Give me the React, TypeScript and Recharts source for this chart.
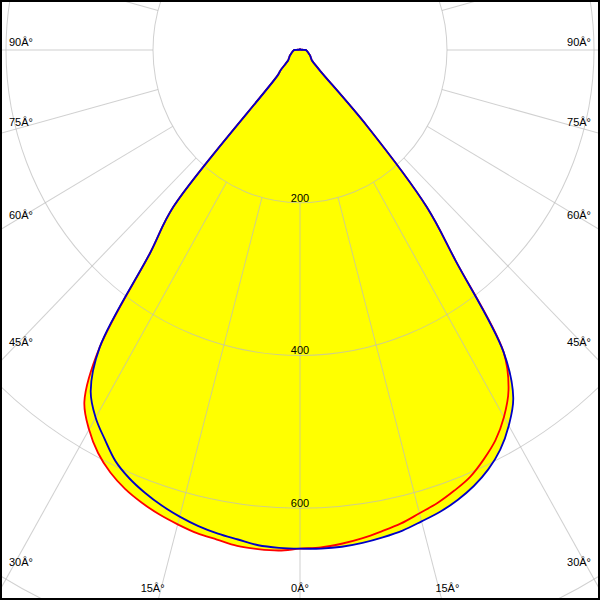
import React from 'react';
import { RadarChart, Radar, PolarGrid, PolarAngleAxis, PolarRadiusAxis } from 'recharts';

// Intensity (cd) against gamma, 2.5° apart, gamma 0 = straight down.
// Beam arrays cover 0..45°, one per half plane.
const BLUE_RIGHT = [653, 653.5, 653, 651, 648, 644.5, 639, 634, 627, 618, 606, 590, 568, 540, 483, 348, 268, 135, 40];
const RED_RIGHT = [653, 652, 649, 645, 640, 635, 628, 622, 614, 605, 591.5, 576, 555, 528, 483, 348, 268, 135, 40];
const BLUE_LEFT = [653, 652.5, 651, 646.5, 643, 638.5, 632.5, 625.5, 617, 607, 594, 575, 556, 530, 475, 335, 268, 45, 37];
const RED_LEFT = [654, 656, 656, 655, 651, 648, 643, 637.5, 630.5, 622, 610.5, 595, 574, 546, 475, 335, 268, 45, 37];
// 47.5..180°: the little spill above the cut-off, same for both planes
const TAIL = [
  26, 21, 19.5, 18.2, 17.2, 16.3, 15.3, 14.3, 13.3, 12.5, 11.8, 11.2, 10.6, 10, 9.5, 9, 8.5, 8, 5, 3, 2, 1.5,
  1, 1, 1, 1, 1, 1, 1, 1, 1, 1, 1, 1, 1, 1, 1, 1, 1, 1, 1, 1, 1, 1, 1, 1, 1, 1, 1, 1, 1, 1, 1, 1,
];

const RINGS = [200, 400, 600, 800];
const RING_LABELS = [200, 400, 600];
const SPOKES = [0, 15, 30, 45, 60, 75, 90, 105, 120, 135, 150, 165, 180, 195, 210, 225, 240, 255, 270, 285, 300, 315, 330, 345];
const LABELLED = [0, 15, 30, 45, 60, 75, 90, 270, 285, 300, 315, 330, 345];

const STEP = 2.5;
const HALF = 72;
const pick = (beam: number[], k: number) => (k < beam.length ? beam[k] : TAIL[k - beam.length]);
const rows = Array.from({ length: 2 * HALF }, (_, i) => {
  const right = i <= HALF;
  const k = right ? i : 2 * HALF - i;
  return {
    gamma: i * STEP,
    red: pick(right ? RED_RIGHT : RED_LEFT, k),
    blue: pick(right ? BLUE_RIGHT : BLUE_LEFT, k),
  };
});

const W = 600;
const CX = 300;
const CY = 50;
const PX_PER_CD = 0.735;
const STRETCH_Y = 1.039; // the original plot is a bit taller than wide
const R_MAX = 800;
const FONT = '"Liberation Sans", Arial, sans-serif';
const GRID = '#bcbcbc';
const GRID_OPACITY = 0.7;

// closed centripetal catmull-rom through the radar points
const smoothPath = (pts: { x: number; y: number }[]) => {
  const n = pts.length;
  const dist = (a: any, b: any) => Math.sqrt(Math.hypot(b.x - a.x, b.y - a.y));
  let d = `M${pts[0].x},${pts[0].y}`;
  for (let i = 0; i < n; i++) {
    const p0 = pts[(i - 1 + n) % n];
    const p1 = pts[i];
    const p2 = pts[(i + 1) % n];
    const p3 = pts[(i + 2) % n];
    const l01 = dist(p0, p1);
    const l12 = dist(p1, p2);
    const l23 = dist(p2, p3);
    let c1x = p1.x, c1y = p1.y, c2x = p2.x, c2y = p2.y;
    if (l01 > 1e-6) {
      const a = 2 * l01 * l01 + 3 * l01 * l12 + l12 * l12;
      const m = 3 * l01 * (l01 + l12);
      c1x = (p1.x * a - p0.x * l12 * l12 + p2.x * l01 * l01) / m;
      c1y = (p1.y * a - p0.y * l12 * l12 + p2.y * l01 * l01) / m;
    }
    if (l23 > 1e-6) {
      const b = 2 * l23 * l23 + 3 * l23 * l12 + l12 * l12;
      const m = 3 * l23 * (l23 + l12);
      c2x = (p2.x * b + p1.x * l23 * l23 - p3.x * l12 * l12) / m;
      c2y = (p2.y * b + p1.y * l23 * l23 - p3.y * l12 * l12) / m;
    }
    d += `C${c1x},${c1y},${c2x},${c2y},${p2.x},${p2.y}`;
  }
  return d + 'Z';
};

const curve = (fill: string, stroke: string) => (props: any) =>
  props.points && props.points.length ? (
    <path d={smoothPath(props.points)} fill={fill} stroke={stroke} strokeWidth={stroke === 'none' ? 0 : 1.8} />
  ) : (
    <g />
  );

const ringLabel = (props: any) => {
  const v = props.payload?.value;
  if (!RING_LABELS.includes(v)) return <g />;
  return (
    <text x={props.x} y={props.y - 1} textAnchor="middle" fontSize={11} fontFamily={FONT} fill="#000">
      {v}
    </text>
  );
};

// angle labels sit where each spoke leaves the frame
const angleLabel = (props: any) => {
  const g = props.payload?.value;
  const a = (props.payload?.coordinate * Math.PI) / 180;
  const dx = Math.cos(a);
  const dy = -Math.sin(a);
  const tx = dx > 1e-6 ? (W - CX) / dx : dx < -1e-6 ? -CX / dx : Infinity;
  const ty = dy > 1e-6 ? (W - CY) / dy : Infinity;
  const txt = `${g <= 180 ? g : 360 - g}Â°`;
  const common = { fontSize: 11, fontFamily: FONT, fill: '#000' };
  if (tx < ty) {
    const ey = CY + dy * tx;
    return dx < 0 ? (
      <text x={9} y={ey - 4} textAnchor="start" {...common}>{txt}</text>
    ) : (
      <text x={591} y={ey - 4} textAnchor="end" {...common}>{txt}</text>
    );
  }
  const ex = CX + dx * ty;
  return <text x={ex} y={592} textAnchor="middle" {...common}>{txt}</text>;
};

const layer = (stretch: boolean): React.CSSProperties => ({
  position: 'absolute',
  left: 0,
  top: 0,
  transform: stretch ? `scaleY(${STRETCH_Y})` : undefined,
  transformOrigin: `${CX}px ${CY}px`,
});

const chartProps = {
  width: W,
  height: W,
  cx: CX,
  cy: CY,
  startAngle: -90,
  endAngle: 270,
  margin: { top: 0, right: 0, bottom: 0, left: 0 },
  data: rows,
};

export default function App() {
  return (
    <div style={{ position: 'absolute', left: 0, top: 0, width: W, height: W, overflow: 'hidden', background: '#fff' }}>
      {/* yellow body */}
      <div style={layer(true)}>
        <RadarChart {...chartProps} outerRadius={R_MAX * PX_PER_CD}>
          <PolarAngleAxis dataKey="gamma" type="number" domain={[0, 360]} tick={false} axisLine={false} tickLine={false} />
          <PolarRadiusAxis type="number" domain={[0, R_MAX]} tick={false} axisLine={false} tickLine={false} />
          <Radar dataKey="red" fill="#ffff00" fillOpacity={1} stroke="none" dot={false} isAnimationActive={false} shape={curve('#ffff00', 'none')} />
          <Radar dataKey="blue" fill="#ffff00" fillOpacity={1} stroke="none" dot={false} isAnimationActive={false} shape={curve('#ffff00', 'none')} />
        </RadarChart>
      </div>
      {/* rings and spokes, spokes start at the 200 ring */}
      <div style={layer(true)}>
        <RadarChart {...chartProps} outerRadius={RINGS[0] * PX_PER_CD}>
          <PolarGrid
            gridType="circle"
            radialLines={false}
            polarAngles={[]}
            polarRadius={RINGS.map((v) => v * PX_PER_CD)}
            stroke={GRID}
            strokeOpacity={GRID_OPACITY}
          />
          <PolarAngleAxis
            dataKey="gamma"
            type="number"
            domain={[0, 360]}
            ticks={SPOKES}
            tick={false}
            axisLine={false}
            tickSize={900}
            tickLine={{ stroke: GRID, strokeOpacity: GRID_OPACITY }}
          />
          <PolarRadiusAxis type="number" domain={[0, RINGS[0]]} tick={false} axisLine={false} tickLine={false} />
        </RadarChart>
      </div>
      {/* outlines and ring values */}
      <div style={layer(true)}>
        <RadarChart {...chartProps} outerRadius={R_MAX * PX_PER_CD}>
          <PolarAngleAxis dataKey="gamma" type="number" domain={[0, 360]} tick={false} axisLine={false} tickLine={false} />
          <PolarRadiusAxis
            type="number"
            domain={[0, R_MAX]}
            angle={-90}
            ticks={RINGS}
            tickCount={5}
            tick={ringLabel}
            axisLine={false}
            tickLine={false}
          />
          <Radar dataKey="red" fill="none" stroke="#ff0000" strokeWidth={1.8} dot={false} isAnimationActive={false} shape={curve('none', '#ff0000')} />
          <Radar dataKey="blue" fill="none" stroke="#0000c8" strokeWidth={1.8} dot={false} isAnimationActive={false} shape={curve('none', '#0000c8')} />
        </RadarChart>
      </div>
      {/* angle labels, not stretched */}
      <div style={layer(false)}>
        <RadarChart {...chartProps} outerRadius={RINGS[0] * PX_PER_CD}>
          <PolarAngleAxis dataKey="gamma" type="number" domain={[0, 360]} ticks={LABELLED} tick={angleLabel} axisLine={false} tickLine={false} />
          <PolarRadiusAxis type="number" domain={[0, R_MAX]} tick={false} axisLine={false} tickLine={false} />
        </RadarChart>
      </div>
      <div style={{ position: 'absolute', inset: 0, border: '2px solid #000', boxSizing: 'border-box', pointerEvents: 'none' }} />
    </div>
  );
}
